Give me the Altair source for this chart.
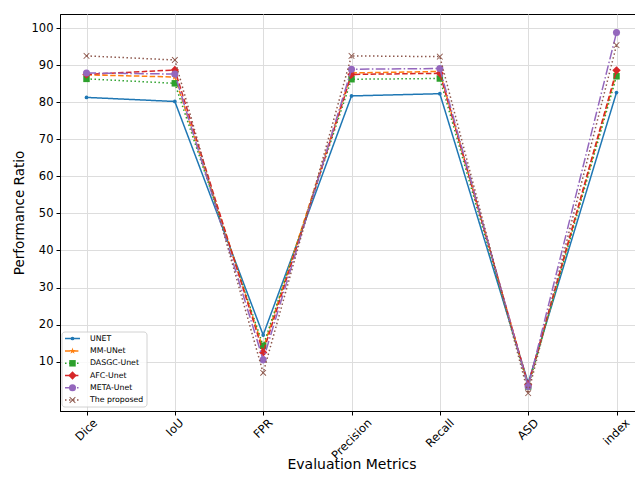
import altair as alt
import pandas as pd

metrics = ["Dice", "IoU", "FPR", "Precision", "Recall", "ASD", "index"]
series_names = ["UNET", "MM-UNet", "DASGC-Unet", "AFC-Unet", "META-Unet", "The proposed"]
unet = [81.3, 80.2, 17.2, 81.7, 82.3, 4.3, 82.6]
mm_unet = [87.4, 86.8, 13.5, 87.9, 88.3, 3.5, 88.0]
dasgc_unet = [86.3, 85.1, 14.3, 86.2, 86.4, 3.3, 87.0]
afc_unet = [87.5, 88.7, 12.5, 87.5, 87.8, 3.8, 88.6]
meta_unet = [87.9, 87.6, 10.5, 88.9, 89.1, 3.3, 98.8]
proposed = [92.5, 91.4, 7.0, 92.5, 92.3, 1.5, 95.4]
y_ticks = [10, 20, 30, 40, 50, 60, 70, 80, 90, 100]

all_values = [unet, mm_unet, dasgc_unet, afc_unet, meta_unet, proposed]

STAR = "M0,-1L0.2245,-0.309L0.951,-0.309L0.363,0.118L0.588,0.809L0,0.382L-0.588,0.809L-0.363,0.118L-0.951,-0.309L-0.2245,-0.309Z"
XMARK = "M-1,-0.8L-0.8,-1L0,-0.2L0.8,-1L1,-0.8L0.2,0L1,0.8L0.8,1L0,0.2L-0.8,1L-1,0.8L-0.2,0Z"

styles = [
    dict(color="#1f77b4", dash=[1, 0], shape="circle", size=14),
    dict(color="#ff7f0e", dash=[5.5, 2.4], shape=STAR, size=50),
    dict(color="#2ca02c", dash=[1.5, 2.5], shape="square", size=42),
    dict(color="#d62728", dash=[5.5, 2.4], shape="diamond", size=70),
    dict(color="#9467bd", dash=[9.6, 2.4, 1.5, 2.4], shape="circle", size=50),
    dict(color="#8c564b", dash=[1.5, 2.5], shape=XMARK, size=40),
]

# shift of each rotated tick label so that its bounding box is centred on the tick
label_shift = {"Dice": 9, "IoU": 6.7, "FPR": 7.6, "Precision": 18.3,
               "Recall": 12.3, "ASD": 8.5, "index": 11.2}
offset_cond = {
    "condition": [{"test": f"datum.label == '{k}'", "value": v} for k, v in label_shift.items()],
    "value": 8,
}

W, H = 583, 397
x_enc = alt.X("metric:N", sort=metrics,
              scale=alt.Scale(type="point", domain=metrics, padding=0.3),
              axis=alt.Axis(title="Evaluation Metrics", labelAngle=-45, labelAlign="right",
                            labelBaseline="middle", labelPadding=6, labelOffset=offset_cond,
                            titleY=57, titleBaseline="alphabetic", titleFontSize=14))
y_enc = alt.Y("value:Q", scale=alt.Scale(domain=[-3.3, 103.8], nice=False, zero=False),
              axis=alt.Axis(title="Performance Ratio", values=y_ticks, titlePadding=5,
                            labelPadding=3))

layers = []
for name, vals, st in zip(series_names, all_values, styles):
    df = pd.DataFrame({"metric": metrics, "value": vals, "series": name})
    line = alt.Chart(df).mark_line(
        color=st["color"], strokeDash=st["dash"], strokeWidth=1.5,
        point=alt.OverlayMarkDef(shape=st["shape"], size=st["size"], filled=True,
                                 color=st["color"], opacity=1)
    ).encode(x=x_enc, y=y_enc)
    layers.append(line)

# legend box
legend_box = alt.Chart(alt.Data(values=[{"a": 1}])).mark_rect(
    fill="white", opacity=0.85, stroke="#cccccc", strokeWidth=1, cornerRadius=3
).encode(x=alt.value(2), x2=alt.value(87), y=alt.value(318), y2=alt.value(393))
layers.append(legend_box)

entry_y = [324.5, 337, 349.3, 361.5, 373.8, 386]
for name, st, ly in zip(series_names, styles, entry_y):
    d = alt.Data(values=[{"name": name}])
    rule = alt.Chart(d).mark_rule(color=st["color"], strokeDash=st["dash"], strokeWidth=1.5).encode(
        x=alt.value(5), x2=alt.value(20), y=alt.value(ly))
    pt = alt.Chart(d).mark_point(shape=st["shape"], size=st["size"], filled=True,
                                 color=st["color"], opacity=1).encode(
        x=alt.value(12.5), y=alt.value(ly))
    txt = alt.Chart(d).mark_text(align="left", baseline="middle", fontSize=7.8,
                                 font="DejaVu Sans", color="#000000").encode(
        x=alt.value(30), y=alt.value(ly), text="name:N")
    layers += [rule, pt, txt]

chart = alt.layer(*layers).properties(
    width=W, height=H,
    autosize=alt.AutoSizeParams(type="none"),
    padding={"left": 52, "top": 6, "right": -8, "bottom": 60},
).configure_view(stroke="#000000", strokeWidth=1).configure_axis(
    labelFont="DejaVu Sans", titleFont="DejaVu Sans", labelFontSize=11.5, titleFontSize=13.5,
    titleFontWeight="normal", labelColor="#000000", titleColor="#000000",
    grid=True, gridColor="#dddddd", gridWidth=1,
    domainColor="#000000", tickColor="#000000", tickSize=4,
)

chart.save("out.html", embed_options={"renderer": "svg", "actions": False})
